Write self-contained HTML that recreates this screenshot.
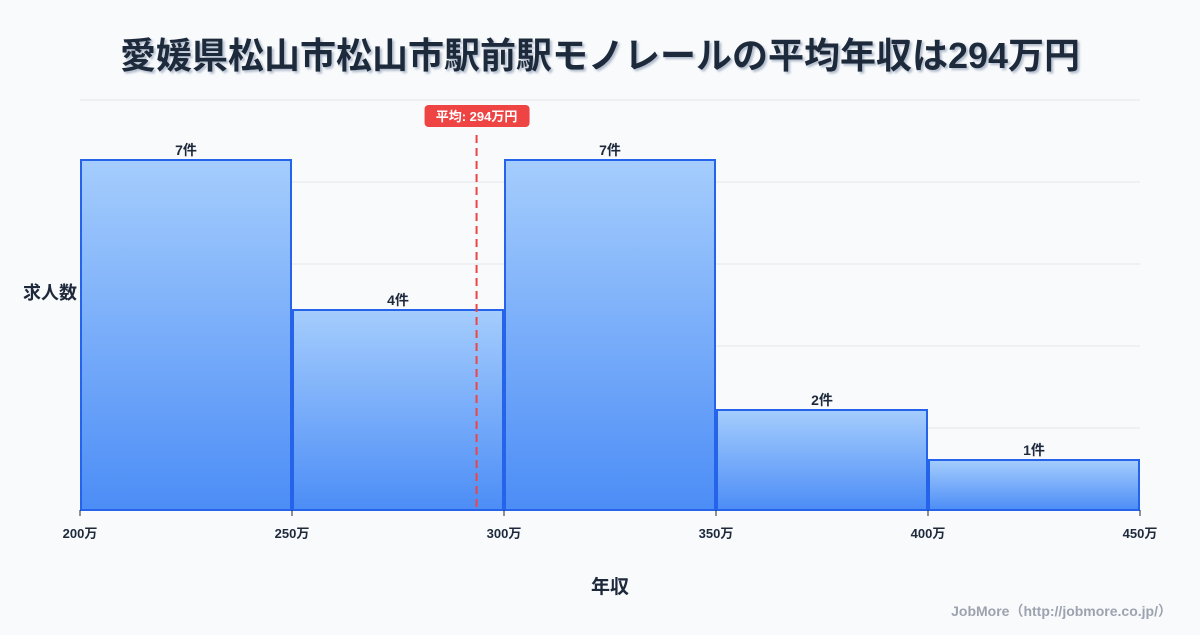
<!DOCTYPE html>
<html><head><meta charset="utf-8"><style>
body{margin:0;background:#f8fafc;font-family:"Liberation Sans","Noto Sans CJK JP",sans-serif;}
svg text{font-family:"Liberation Sans","Noto Sans CJK JP",sans-serif;}
</style></head><body>
<svg id="c" width="1200" height="630" viewBox="0 0 1200 630" xmlns="http://www.w3.org/2000/svg">
<defs>
<linearGradient id="g" x1="0" y1="0" x2="0" y2="1"><stop offset="0" stop-color="#a5cdfd"/><stop offset="1" stop-color="#4c8df6"/></linearGradient>
<filter id="sh"><feDropShadow dx="2" dy="2" stdDeviation="1" flood-color="#94a3b8" flood-opacity="0.7"/></filter>
</defs>
<text x="600" y="68" text-anchor="middle" font-size="36" font-weight="bold" fill="#1e293b" filter="url(#sh)">愛媛県松山市松山市駅前駅モノレールの平均年収は294万円</text>
<g id="grid"></g><g id="bars"></g><g id="xt"></g>
<text x="50" y="299" text-anchor="middle" font-size="18" font-weight="bold" fill="#1e293b">求人数</text>
<text x="610" y="593" text-anchor="middle" font-size="19" font-weight="bold" fill="#1e293b">年収</text>
<text x="1172" y="616" text-anchor="end" font-size="14" font-weight="bold" fill="#9ca3af">JobMore（http://jobmore.co.jp/）</text>
<g id="mean"></g>
</svg>
<script>
const binStarts=[200,250,300,350,400];
const binEnds=[250,300,350,400,450];
const counts=[7,4,7,2,1];
const xTicks=[200,250,300,350,400,450];
const meanValue=294;
const ns="http://www.w3.org/2000/svg";
const x0=80,x1=1140,yb=510,yt=100,yMax=8.2;
const X=v=>x0+(v-200)/(450-200)*(x1-x0);
const Y=v=>yb-v/yMax*(yb-yt);
function mk(t,a,p){const e=document.createElementNS(ns,t);for(const k in a)e.setAttribute(k,a[k]);p.appendChild(e);return e;}
const grid=document.getElementById('grid');
for(let i=0;i<=5;i++){const y=yb-i*(yb-yt)/5;const l=mk('line',{x1:x0,x2:x1,y1:y,y2:y,stroke:'#e5e7eb','stroke-width':1},grid);

}
const bars=document.getElementById('bars');
counts.forEach((c,i)=>{const xa=X(binStarts[i])+1,xb=X(binEnds[i])-1;
const r=mk('rect',{x:xa,y:Y(c),width:xb-xa,height:yb-Y(c),fill:'url(#g)',stroke:'#2563eb','stroke-width':2},bars);


const t=mk('text',{x:(xa+xb)/2,y:Y(c)-5,'text-anchor':'middle','font-size':14,'font-weight':'bold',fill:'#1e293b'},bars);t.textContent=c+'件';

});
const xt=document.getElementById('xt');
xTicks.forEach(v=>{mk('line',{x1:X(v),x2:X(v),y1:yb,y2:yb+6,stroke:'#1e293b'},xt);
const t=mk('text',{x:X(v),y:538,'text-anchor':'middle','font-size':13,'font-weight':'bold',fill:'#1e293b'},xt);t.textContent=v+'万';

});
const mg=document.getElementById('mean');const mx=X(meanValue)-2;
const ml=mk('line',{x1:mx,x2:mx,y1:135,y2:yb,stroke:'#ef4444','stroke-width':2,'stroke-dasharray':'8,5'},mg);


const mb=mk('rect',{x:mx-52,y:105,width:105,height:22,rx:4,fill:'#ef4444'},mg);


const mt=mk('text',{x:mx,y:121,'text-anchor':'middle','font-size':13,'font-weight':'bold',fill:'#fff'},mg);mt.textContent='平均: '+meanValue+'万円';


</script>
</body></html>
